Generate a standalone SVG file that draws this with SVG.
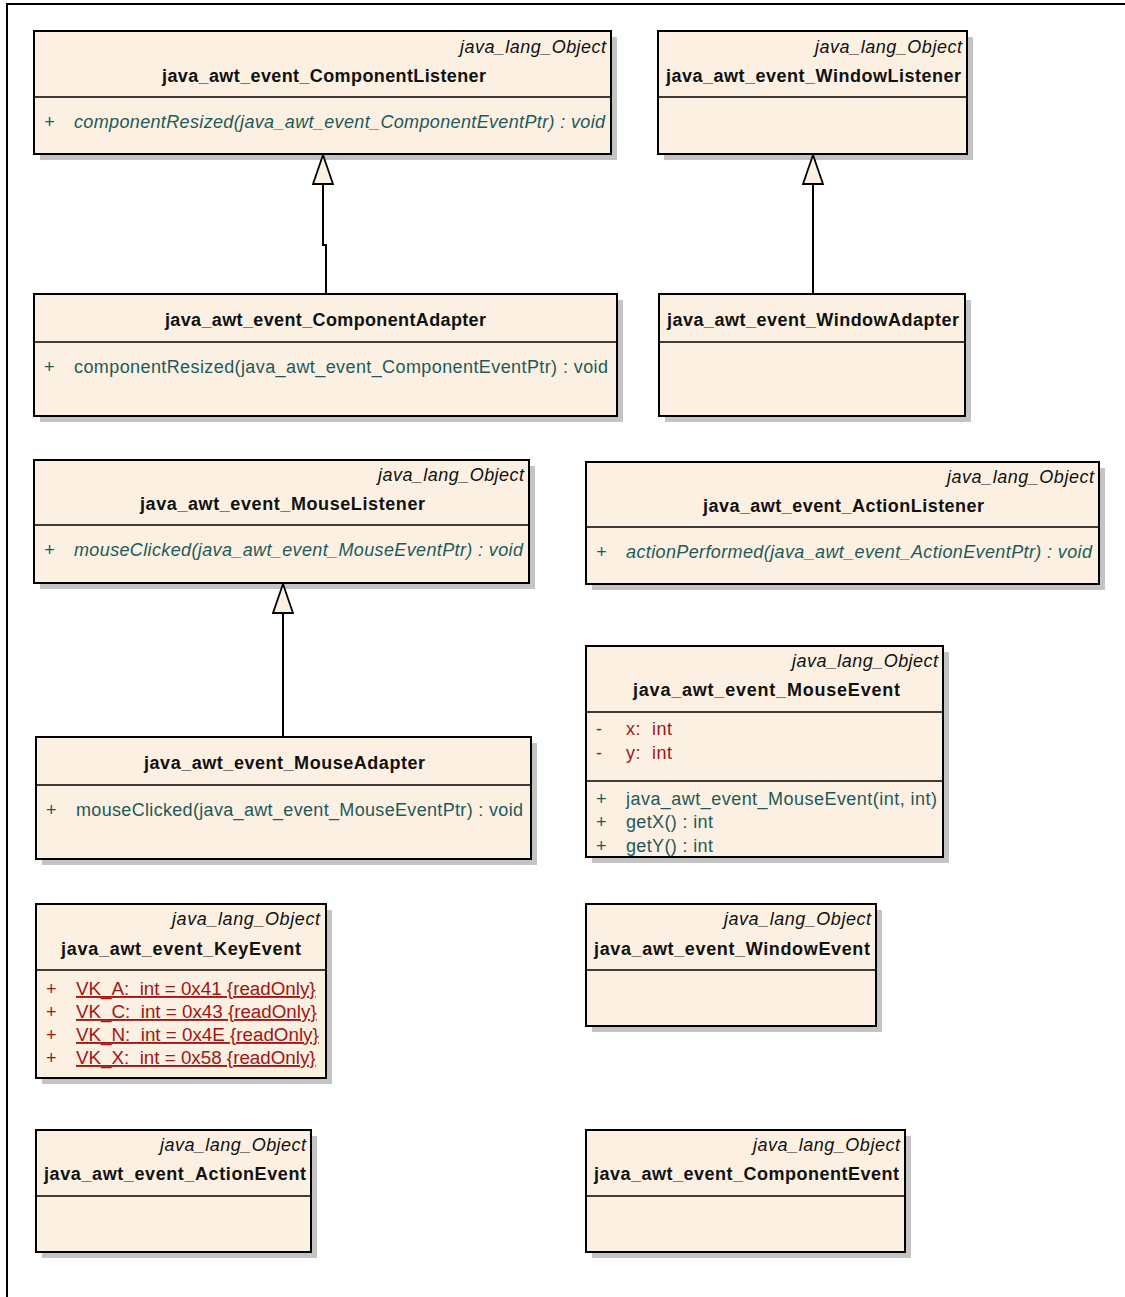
<svg xmlns="http://www.w3.org/2000/svg" width="1125" height="1297" viewBox="0 0 1125 1297">
<style>
.bg{fill:#fff}
.frame{stroke:#000;stroke-width:2;fill:none}
.shadow{fill:#c4c4c4}
.box{fill:#fbf0e1;stroke:#000;stroke-width:2}
.div{stroke:#000;stroke-width:1.5}
text{font-family:"Liberation Sans",Arial,sans-serif;font-size:18px}
.st{font-style:italic;text-anchor:end;fill:#111}
.nm{font-weight:bold;text-anchor:middle;fill:#111}
.op{fill:#1e5a5a}
.opi{fill:#1e5a5a;font-style:italic}
.at{fill:#a01616}
.u{text-decoration:underline;text-decoration-skip-ink:none;font-size:18.8px}
.conn{stroke:#000;stroke-width:2;fill:none}
</style>
<defs>
<marker id="gen" viewBox="0 0 31 22" refX="30" refY="11" markerWidth="31" markerHeight="22" markerUnits="userSpaceOnUse" orient="auto">
<path d="M1,1 L30,11 L1,21 Z" fill="#fbf0e1" stroke="#000" stroke-width="1.8"/>
</marker>
</defs>
<rect class="bg" x="0" y="0" width="1125" height="1297"/>
<path class="frame" d="M7,1297 L7,4 L1125,4"/>

<g id="ComponentListener">
<rect class="shadow" x="40" y="37" width="577" height="123"/>
<rect class="box" x="34" y="31" width="577" height="123"/>
<line class="div" x1="34" y1="97" x2="611" y2="97"/>
<text class="st" x="606" y="53" textLength="146" lengthAdjust="spacing">java_lang_Object</text>
<text class="nm" x="324" y="82" textLength="324" lengthAdjust="spacing">java_awt_event_ComponentListener</text>
<text class="opi" x="44" y="128">+</text>
<text class="opi" x="74" y="128" textLength="531" lengthAdjust="spacing">componentResized(java_awt_event_ComponentEventPtr) : void</text>
</g>

<g id="WindowListener">
<rect class="shadow" x="664" y="37" width="309" height="123"/>
<rect class="box" x="658" y="31" width="309" height="123"/>
<line class="div" x1="658" y1="97" x2="967" y2="97"/>
<text class="st" x="962" y="53" textLength="147" lengthAdjust="spacing">java_lang_Object</text>
<text class="nm" x="813.5" y="82" textLength="295" lengthAdjust="spacing">java_awt_event_WindowListener</text>
</g>

<g id="ComponentAdapter">
<rect class="shadow" x="40" y="300" width="583" height="122"/>
<rect class="box" x="34" y="294" width="583" height="122"/>
<line class="div" x1="34" y1="342" x2="617" y2="342"/>
<text class="nm" x="325.5" y="326" textLength="321" lengthAdjust="spacing">java_awt_event_ComponentAdapter</text>
<text class="op" x="44" y="373">+</text>
<text class="op" x="74" y="373" textLength="534" lengthAdjust="spacing">componentResized(java_awt_event_ComponentEventPtr) : void</text>
</g>

<g id="WindowAdapter">
<rect class="shadow" x="665" y="300" width="306" height="122"/>
<rect class="box" x="659" y="294" width="306" height="122"/>
<line class="div" x1="659" y1="342" x2="965" y2="342"/>
<text class="nm" x="813" y="326" textLength="292" lengthAdjust="spacing">java_awt_event_WindowAdapter</text>
</g>

<g id="MouseListener">
<rect class="shadow" x="40" y="466" width="495" height="123"/>
<rect class="box" x="34" y="460" width="495" height="123"/>
<line class="div" x1="34" y1="525" x2="529" y2="525"/>
<text class="st" x="524" y="481" textLength="146" lengthAdjust="spacing">java_lang_Object</text>
<text class="nm" x="282.5" y="510" textLength="285" lengthAdjust="spacing">java_awt_event_MouseListener</text>
<text class="opi" x="44" y="556">+</text>
<text class="opi" x="74" y="556" textLength="449" lengthAdjust="spacing">mouseClicked(java_awt_event_MouseEventPtr) : void</text>
</g>

<g id="ActionListener">
<rect class="shadow" x="592" y="468" width="513" height="122"/>
<rect class="box" x="586" y="462" width="513" height="122"/>
<line class="div" x1="586" y1="527" x2="1099" y2="527"/>
<text class="st" x="1094" y="483" textLength="147" lengthAdjust="spacing">java_lang_Object</text>
<text class="nm" x="843.5" y="512" textLength="281" lengthAdjust="spacing">java_awt_event_ActionListener</text>
<text class="opi" x="596" y="558">+</text>
<text class="opi" x="626" y="558" textLength="466" lengthAdjust="spacing">actionPerformed(java_awt_event_ActionEventPtr) : void</text>
</g>

<g id="MouseEvent">
<rect class="shadow" x="592" y="652" width="357" height="211"/>
<rect class="box" x="586" y="646" width="357" height="211"/>
<line class="div" x1="586" y1="712" x2="943" y2="712"/>
<line class="div" x1="586" y1="781" x2="943" y2="781"/>
<text class="st" x="938" y="667" textLength="146" lengthAdjust="spacing">java_lang_Object</text>
<text class="nm" x="766.5" y="696" textLength="267" lengthAdjust="spacing">java_awt_event_MouseEvent</text>
<text class="at" x="596" y="735">-</text>
<text class="at" x="626" y="735" textLength="46" lengthAdjust="spacing" xml:space="preserve">x:  int</text>
<text class="at" x="596" y="759">-</text>
<text class="at" x="626" y="759" textLength="46" lengthAdjust="spacing" xml:space="preserve">y:  int</text>
<text class="op" x="596" y="805">+</text>
<text class="op" x="626" y="805" textLength="311" lengthAdjust="spacing">java_awt_event_MouseEvent(int, int)</text>
<text class="op" x="596" y="828">+</text>
<text class="op" x="626" y="828" textLength="87" lengthAdjust="spacing">getX() : int</text>
<text class="op" x="596" y="852">+</text>
<text class="op" x="626" y="852" textLength="87" lengthAdjust="spacing">getY() : int</text>
</g>

<g id="MouseAdapter">
<rect class="shadow" x="42" y="743" width="495" height="122"/>
<rect class="box" x="36" y="737" width="495" height="122"/>
<line class="div" x1="36" y1="785" x2="531" y2="785"/>
<text class="nm" x="284.5" y="769" textLength="281" lengthAdjust="spacing">java_awt_event_MouseAdapter</text>
<text class="op" x="46" y="816">+</text>
<text class="op" x="76" y="816" textLength="447" lengthAdjust="spacing">mouseClicked(java_awt_event_MouseEventPtr) : void</text>
</g>

<g id="KeyEvent">
<rect class="shadow" x="42" y="910" width="290" height="174"/>
<rect class="box" x="36" y="904" width="290" height="174"/>
<line class="div" x1="36" y1="970" x2="326" y2="970"/>
<text class="st" x="320" y="925" textLength="148" lengthAdjust="spacing">java_lang_Object</text>
<text class="nm" x="181" y="955" textLength="240" lengthAdjust="spacing">java_awt_event_KeyEvent</text>
<text class="at" x="46" y="995">+</text>
<text class="at u" x="76" y="995" xml:space="preserve">VK_A:  int = 0x41 {readOnly}</text>
<text class="at" x="46" y="1018">+</text>
<text class="at u" x="76" y="1018" xml:space="preserve">VK_C:  int = 0x43 {readOnly}</text>
<text class="at" x="46" y="1041">+</text>
<text class="at u" x="76" y="1041" xml:space="preserve">VK_N:  int = 0x4E {readOnly}</text>
<text class="at" x="46" y="1064">+</text>
<text class="at u" x="76" y="1064" xml:space="preserve">VK_X:  int = 0x58 {readOnly}</text>
</g>

<g id="WindowEvent">
<rect class="shadow" x="592" y="910" width="290" height="122"/>
<rect class="box" x="586" y="904" width="290" height="122"/>
<line class="div" x1="586" y1="970" x2="876" y2="970"/>
<text class="st" x="871" y="925" textLength="147" lengthAdjust="spacing">java_lang_Object</text>
<text class="nm" x="732" y="955" textLength="276" lengthAdjust="spacing">java_awt_event_WindowEvent</text>
</g>

<g id="ActionEvent">
<rect class="shadow" x="42" y="1136" width="275" height="122"/>
<rect class="box" x="36" y="1130" width="275" height="122"/>
<line class="div" x1="36" y1="1196" x2="311" y2="1196"/>
<text class="st" x="306" y="1151" textLength="146" lengthAdjust="spacing">java_lang_Object</text>
<text class="nm" x="175" y="1180" textLength="262" lengthAdjust="spacing">java_awt_event_ActionEvent</text>
</g>

<g id="ComponentEvent">
<rect class="shadow" x="592" y="1136" width="319" height="122"/>
<rect class="box" x="586" y="1130" width="319" height="122"/>
<line class="div" x1="586" y1="1196" x2="905" y2="1196"/>
<text class="st" x="900" y="1151" textLength="147" lengthAdjust="spacing">java_lang_Object</text>
<text class="nm" x="746.5" y="1180" textLength="305" lengthAdjust="spacing">java_awt_event_ComponentEvent</text>
</g>

<g id="connectors">
<path class="conn" d="M326,294 L326,245 L323,245 L323,155" marker-end="url(#gen)"/>
<path class="conn" d="M813,294 L813,155" marker-end="url(#gen)"/>
<path class="conn" d="M283,737 L283,584" marker-end="url(#gen)"/>
</g>
</svg>
